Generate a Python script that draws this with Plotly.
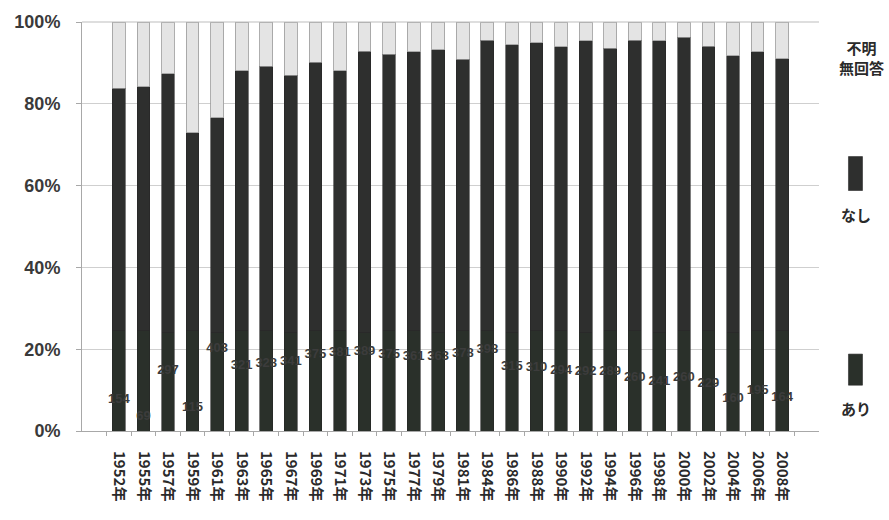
import plotly.graph_objects as go

# Survey years
years = ["1952年", "1955年", "1957年", "1959年", "1961年", "1963年", "1965年",
         "1967年", "1969年", "1971年", "1973年", "1975年", "1977年", "1979年",
         "1981年", "1984年", "1986年", "1988年", "1990年", "1992年", "1994年",
         "1996年", "1998年", "2000年", "2002年", "2004年", "2006年", "2008年"]

# Share of respondents (%) per answer
ari = [24.5, 24.5, 24.0, 24.5, 24.0, 24.5, 24.5, 24.0, 24.5, 24.5, 24.0, 24.5,
       24.5, 24.0, 24.5, 24.5, 24.0, 24.5, 24.5, 24.0, 24.5, 24.5, 24.0, 24.5,
       24.5, 24.0, 24.5, 24.5]
nashi = [59.3, 59.7, 63.3, 48.4, 52.6, 63.6, 64.7, 63.0, 65.7, 63.6, 68.9, 67.6,
         68.2, 69.2, 66.4, 71.1, 70.4, 70.4, 69.4, 71.4, 69.1, 71.1, 71.4, 71.8,
         69.6, 67.7, 68.2, 66.5]
fumei = [16.2, 15.8, 12.7, 27.1, 23.4, 11.9, 10.8, 13.0, 9.8, 11.9, 7.1, 7.9,
         7.3, 6.8, 9.1, 4.4, 5.6, 5.1, 6.1, 4.6, 6.4, 4.4, 4.6, 3.7,
         5.9, 8.3, 7.3, 9.0]

# Number of respondents answering each year (secondary scale)
counts = [154, 69, 297, 115, 403, 321, 328, 341, 375, 381, 389, 375, 361, 363,
          378, 398, 315, 310, 294, 292, 289, 260, 241, 260, 229, 160, 195, 164]

tick_vals = [0, 20, 40, 60, 80, 100]
tick_text = ["0%", "20%", "40%", "60%", "80%", "100%"]

fig = go.Figure()
fig.add_trace(go.Bar(x=years, y=ari, name="あり",
                     marker=dict(color="#2a302a", line=dict(color="#262626", width=0.6))))
fig.add_trace(go.Bar(x=years, y=nashi, name="なし",
                     marker=dict(color="#2e2f2e", line=dict(color="#262626", width=0.6))))
fig.add_trace(go.Bar(x=years, y=fumei, name="不明無回答",
                     marker=dict(color="#e4e4e4", line=dict(color="#9a9a9a", width=0.8))))
fig.add_trace(go.Scatter(x=years, y=counts, yaxis="y2", mode="text",
                         text=[str(c) for c in counts], textposition="middle center",
                         textfont=dict(family="Liberation Sans, Arial", size=13,
                                       color="#3c3c3c", weight="bold"),
                         showlegend=False, hoverinfo="skip"))

fig.update_layout(
    width=889, height=520,
    margin=dict(l=82, r=70, t=22, b=89),
    paper_bgcolor="white", plot_bgcolor="white",
    barmode="stack", bargap=0.48,
    showlegend=False,
    font=dict(family="Liberation Sans, Arial, Noto Sans CJK JP", color="#333333"),
    xaxis=dict(type="category", tickangle=90, showgrid=False,
               showline=True, linecolor="#a8a8a8", linewidth=1,
               ticks="outside", tickson="boundaries", ticklen=4, tickcolor="#a8a8a8",
               ticklabelstandoff=16,
               tickfont=dict(family="Noto Sans CJK JP, Liberation Sans", size=15,
                             color="#2a2a2a", weight="bold")),
    yaxis=dict(range=[0, 100], tickvals=tick_vals, ticktext=tick_text,
               showgrid=True, gridcolor="#cfcfcf", gridwidth=1,
               showline=True, linecolor="#a8a8a8", linewidth=1,
               ticks="outside", ticklen=5, tickcolor="#a8a8a8", ticklabelstandoff=12,
               zeroline=False,
               tickfont=dict(family="Liberation Sans, Arial", size=18, color="#3a3a3a",
                             weight="bold")),
    yaxis2=dict(range=[0, 2000], overlaying="y", visible=False),
)

# Upper plot border
fig.add_shape(type="line", xref="paper", yref="paper", x0=0, x1=1, y0=1, y1=1,
              line=dict(color="#bdbdbd", width=1))

# Legend laid out down the right-hand side
legend_font = dict(family="Noto Sans CJK JP", size=15, color="#2a2a2a")
fig.add_annotation(xref="paper", yref="paper", x=1.058, y=0.914, text="<b>不明<br>無回答</b>",
                   showarrow=False, font=legend_font, align="center",
                   xanchor="center", yanchor="middle")
for label, color, y0, y1, ty in [("なし", "#2e2f2e", 0.588, 0.671, 0.530),
                                  ("あり", "#2a302a", 0.112, 0.188, 0.054)]:
    fig.add_shape(type="rect", xref="paper", yref="paper", x0=1.040, x1=1.059, y0=y0, y1=y1,
                  fillcolor=color, line=dict(color="#262626", width=0.6))
    fig.add_annotation(xref="paper", yref="paper", x=1.050, y=ty, text="<b>" + label + "</b>",
                       showarrow=False, font=legend_font, xanchor="center", yanchor="middle")

fig.write_html("out.html")
